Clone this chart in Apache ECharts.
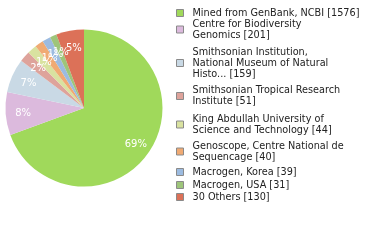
<!DOCTYPE html>
<html>
<head>
<meta charset="utf-8">
<script src="https://cdn.jsdelivr.net/npm/echarts@6/dist/echarts.min.js"></script>
<style>html,body{margin:0;padding:0;background:#fff;}#c{width:380px;height:240px;}</style>
</head>
<body>
<div id="c"></div>
<script>
var categories = [
  "Mined from GenBank, NCBI",
  "Centre for Biodiversity\nGenomics",
  "Smithsonian Institution,\nNational Museum of Natural\nHisto...",
  "Smithsonian Tropical Research\nInstitute",
  "King Abdullah University of\nScience and Technology",
  "Genoscope, Centre National de\nSequencage",
  "Macrogen, Korea",
  "Macrogen, USA",
  "30 Others"
];
var values = [1576, 201, 159, 51, 44, 40, 39, 31, 130];
var colors = ["#a0d95b", "#dcbadd", "#c9d9e5", "#dea39b", "#d9e2a0", "#f0aa73", "#9cbbe0", "#9ec57a", "#dc7158"];

// layout: y of the first text line of each legend entry
var legendFirstLine = [13, 24, 52, 90.5, 119, 146, 172, 185, 197];
var LINE = 11;

var data = categories.map(function (c, i) {
  return { name: c, value: values[i], itemStyle: { color: colors[i] } };
});
var total = values.reduce(function (a, b) { return a + b; }, 0);

var legends = categories.map(function (c, i) {
  return {
    orient: 'vertical',
    left: 176,
    top: legendFirstLine[i] - LINE / 2,
    padding: 0,
    itemWidth: 7,
    itemHeight: 7,
    icon: 'rect',
    selectedMode: false,
    itemStyle: { borderColor: '#8a8a8a', borderWidth: 1 },
    textStyle: { fontFamily: 'DejaVu Sans', fontSize: 9.7, color: '#222', lineHeight: LINE, padding: [0, 0, 0, 4] },
    formatter: function (name) {
      var k = categories.indexOf(name);
      return name + ' [' + values[k] + ']';
    },
    data: [c]
  };
});

var chart = echarts.init(document.getElementById('c'), null, { renderer: 'canvas' });
chart.setOption({
  animation: false,
  backgroundColor: '#fff',
  legend: legends,
  series: [
    {
      type: 'pie',
      center: [84, 108],
      radius: [0, 78.5],
      startAngle: 90,
      clockwise: true,
      silent: true,
      itemStyle: { borderWidth: 0 },
      label: { show: false },
      labelLine: { show: false },
      data: data
    },
    {
      type: 'pie',
      center: [85, 109],
      radius: [40, 78],
      startAngle: 90,
      clockwise: true,
      silent: true,
      avoidLabelOverlap: false,
      labelLayout: { hideOverlap: false },
      itemStyle: { color: 'rgba(0,0,0,0)', borderWidth: 0 },
      label: {
        show: true,
        position: 'inside',
        color: '#fff',
        fontFamily: 'DejaVu Sans',
        fontSize: 10,
        formatter: function (p) { return Math.floor(p.value / total * 100) + '%'; }
      },
      labelLine: { show: false },
      data: values.map(function (v, i) { return { name: categories[i], value: v, itemStyle: { color: 'rgba(0,0,0,0)' } }; })
    }
  ]
});
</script>
</body>
</html>
